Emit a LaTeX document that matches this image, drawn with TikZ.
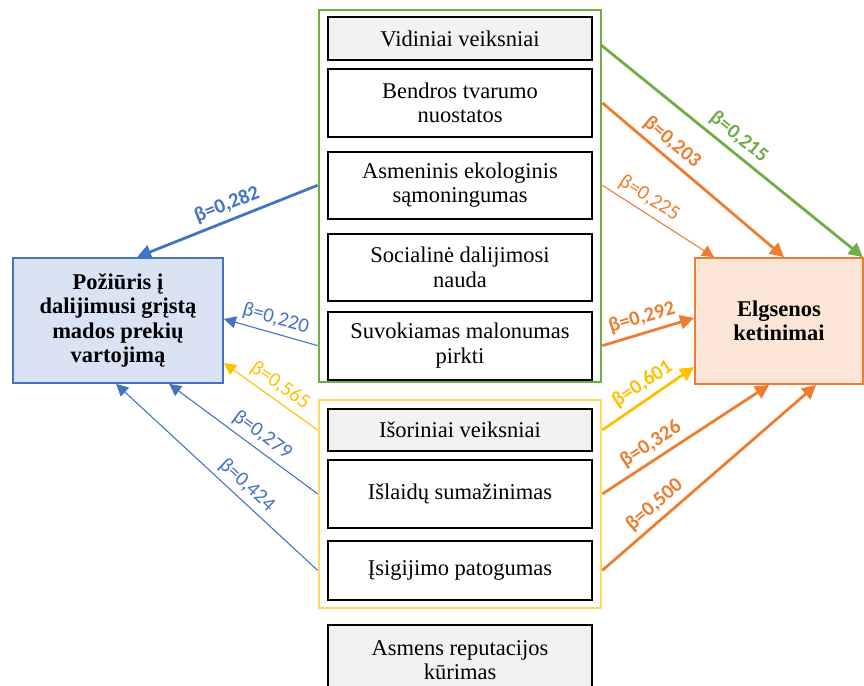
\documentclass[tikz,border=0pt]{standalone}
\usepackage{fontspec}
\setmainfont{Liberation Serif}
\newfontfamily\lblfont{Carlito}
\usetikzlibrary{arrows.meta,positioning}

\definecolor{grn}{HTML}{70AD47}
\definecolor{org}{HTML}{ED7D31}
\definecolor{blu}{HTML}{4472C4}
\definecolor{ylw}{HTML}{FFC000}
\definecolor{ylwbox}{HTML}{FFD966}
\definecolor{headgray}{HTML}{F2F2F2}
\definecolor{pozfill}{HTML}{DAE3F3}
\definecolor{elgfill}{HTML}{FBE5D6}

\begin{document}
\begin{tikzpicture}[x=1pt,y=-1pt,node distance=7pt,
  factor/.style={draw=black,line width=1.9pt,fill=white,minimum width=264pt,minimum height=68pt,
    inner sep=0pt,align=center,font=\fontsize{22.5}{24.5}\selectfont},
  header/.style={factor,fill=headgray,minimum height=43pt},
  grpbox/.style={line width=2.8pt,minimum width=282pt,inner sep=0pt},
  result/.style={line width=1.8pt,inner sep=0pt,align=center,font=\bfseries\fontsize{22.5}{24.5}\selectfont},
  strong/.style={line width=2.8pt,-{Triangle[length=14pt,width=14pt]}},
  weak/.style={line width=1.1pt,-{Triangle[length=12pt,width=12pt]}},
  coef/.style={sloped,above=3pt,inner sep=2pt,font=\lblfont\fontsize{20.5}{20.5}\selectfont},
  coefb/.style={coef,font=\lblfont\bfseries\fontsize{20.5}{20.5}\selectfont}]
  \useasboundingbox (0,0) rectangle (864,685);
  \path
  node[grpbox,draw=grn,minimum height=372pt] (inner) at (460,196) {}
  node[header] (vid) at (460,38.5) {Vidiniai veiksniai}
  node[factor] (bendr) [below=of vid] {Bendros tvarumo\\nuostatos}
  node[factor,minimum height=67pt] (ekol) [below=13pt of bendr] {Asmeninis ekologinis\\sąmoningumas}
  node[factor,minimum height=67pt] (soc) [below=13pt of ekol] {Socialinė dalijimosi\\nauda}
  node[factor] (malon) [below=9pt of soc] {Suvokiamas malonumas\\pirkti}
  node[grpbox,draw=ylwbox,minimum height=208pt] (outer) at (460,504) {}
  node[header,minimum height=42pt] (isor) at (460,430) {Išoriniai veiksniai}
  node[factor] (islaid) [below=of isor] {Išlaidų sumažinimas}
  node[factor,minimum height=59pt] (isig) [below=11pt of islaid] {Įsigijimo patogumas}
  node[header,minimum height=70pt] (reput) at (460,660) {Asmens reputacijos\\kūrimas}
  node[result,draw=blu,fill=pozfill,minimum width=210pt,minimum height=125pt] (poz) at (118,320.5)
    {Požiūris į\\dalijimusi grįstą\\mados prekių\\vartojimą}
  node[result,draw=org,fill=elgfill,minimum width=168pt,minimum height=126pt] (elg) at (779,321)
    {Elgsenos\\ketinimai}
  ;
  \coordinate (vidout) at (601,45);
  \path
  (vidout) edge[strong,grn] node[coefb,pos=.49] {β=0,215} ([xshift=-1pt]elg.north east)
  (inner.east |- bendr) edge[strong,org] node[coefb,pos=.33] {β=0,203} ([xshift=90pt]elg.north west)
  (inner.east |- ekol) edge[weak,org] node[coef,pos=.35] {β=0,225} ([xshift=20pt]elg.north west)
  (inner.east |- malon) edge[strong,org] node[coefb,pos=.48] {β=0,292} ([yshift=3pt]elg.west)
  (outer.east |- isor) edge[strong,ylw] node[coefb,pos=.53] {β=0,601} ([yshift=-46pt]elg.west)
  (outer.east |- islaid) edge[strong,org] node[coefb,pos=.34] {β=0,326} ([xshift=75pt]elg.south west)
  (outer.east |- isig) edge[strong,org] node[coefb,pos=.29] {β=0,500} ([xshift=122pt]elg.south west)
  (inner.west |- ekol) edge[strong,blu] node[coefb,pos=.47] {β=0,282} ([xshift=125pt]poz.north west)
  (inner.west |- malon) edge[weak,blu] node[coef,pos=.49] {β=0,220} ([yshift=1.5pt]poz.east)
  (outer.west |- isor) edge[weak,ylw] node[coef,pos=.49] {β=0,565} ([yshift=-42.5pt]poz.east)
  (outer.west |- islaid) edge[weak,blu] node[coef,pos=.43] {β=0,279} ([xshift=157pt]poz.south west)
  (outer.west |- isig) edge[weak,blu] node[coef,pos=.40] {β=0,424} ([xshift=104pt]poz.south west)
  ;
\end{tikzpicture}
\end{document}
